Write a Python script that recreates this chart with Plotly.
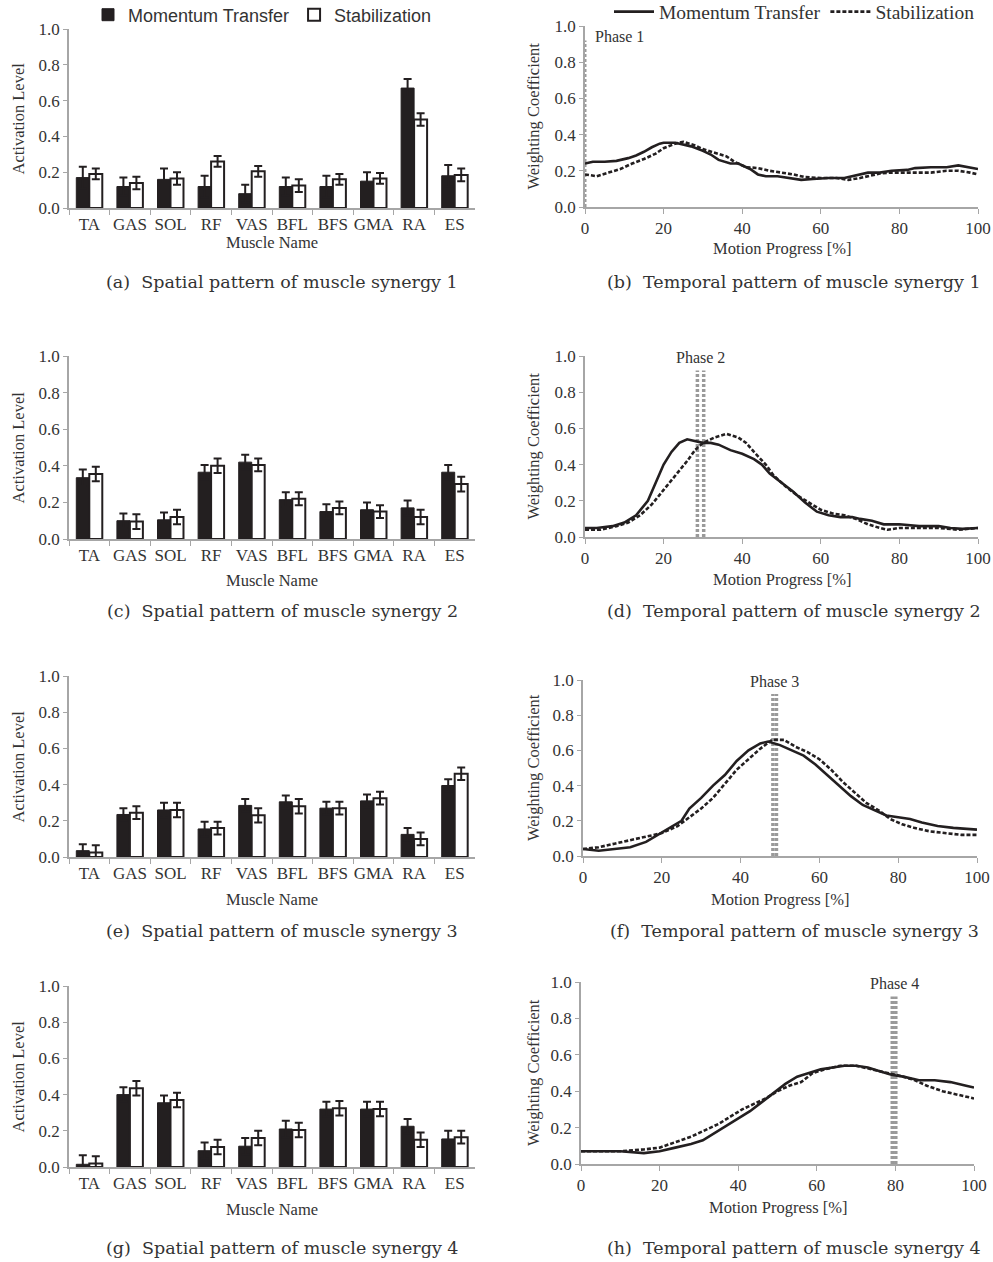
import plotly.graph_objects as go

W, H = 993, 1262

muscles = ["TA", "GAS", "SOL", "RF", "VAS", "BFL", "BFS", "GMA", "RA", "ES"]

# Spatial patterns (activation levels) and error bars
s1_mt = [0.17, 0.12, 0.16, 0.12, 0.08, 0.12, 0.12, 0.15, 0.67, 0.18]
s1_mt_err = [0.06, 0.05, 0.06, 0.06, 0.05, 0.05, 0.06, 0.05, 0.05, 0.06]
s1_st = [0.19, 0.14, 0.165, 0.26, 0.205, 0.125, 0.16, 0.165, 0.495, 0.185]
s1_st_err = [0.03, 0.035, 0.035, 0.03, 0.03, 0.035, 0.03, 0.03, 0.035, 0.035]

s2_mt = [0.335, 0.10, 0.105, 0.365, 0.42, 0.215, 0.15, 0.16, 0.17, 0.365]
s2_mt_err = [0.045, 0.04, 0.04, 0.04, 0.04, 0.04, 0.04, 0.04, 0.04, 0.04]
s2_st = [0.355, 0.095, 0.12, 0.40, 0.405, 0.22, 0.17, 0.15, 0.12, 0.30]
s2_st_err = [0.04, 0.04, 0.04, 0.04, 0.035, 0.035, 0.035, 0.035, 0.04, 0.04]

s3_mt = [0.035, 0.235, 0.26, 0.155, 0.285, 0.305, 0.27, 0.31, 0.125, 0.395]
s3_mt_err = [0.035, 0.035, 0.04, 0.04, 0.035, 0.035, 0.035, 0.035, 0.035, 0.035]
s3_st = [0.025, 0.245, 0.26, 0.16, 0.23, 0.28, 0.27, 0.325, 0.10, 0.46]
s3_st_err = [0.04, 0.035, 0.04, 0.035, 0.04, 0.04, 0.035, 0.035, 0.035, 0.035]

s4_mt = [0.015, 0.40, 0.355, 0.09, 0.115, 0.21, 0.32, 0.32, 0.225, 0.155]
s4_mt_err = [0.05, 0.04, 0.04, 0.045, 0.045, 0.045, 0.04, 0.04, 0.04, 0.045]
s4_st = [0.02, 0.435, 0.37, 0.11, 0.16, 0.205, 0.325, 0.32, 0.15, 0.165]
s4_st_err = [0.04, 0.04, 0.04, 0.04, 0.04, 0.04, 0.04, 0.04, 0.04, 0.035]

# Temporal patterns (weighting coefficients)
t1_mt_x = [0, 2, 5, 8, 11, 13, 15, 17, 19, 20, 23, 25, 27, 30, 32, 34, 37, 39, 42, 44, 46, 49, 52, 55, 58, 62, 66, 69, 72, 75, 78, 82, 84, 88, 92, 95, 98, 100]
t1_mt_y = [0.24, 0.25, 0.25, 0.255, 0.27, 0.285, 0.305, 0.33, 0.35, 0.355, 0.355, 0.345, 0.335, 0.31, 0.29, 0.26, 0.24, 0.24, 0.21, 0.18, 0.17, 0.17, 0.16, 0.15, 0.155, 0.16, 0.16, 0.175, 0.19, 0.19, 0.2, 0.205, 0.215, 0.22, 0.22, 0.23, 0.22, 0.21]
t1_st_x = [0, 3, 6, 9, 12, 15, 18, 20, 23, 25, 28, 30, 33, 36, 38, 41, 44, 47, 50, 53, 56, 60, 64, 67, 70, 72, 75, 78, 82, 88, 92, 95, 98, 100]
t1_st_y = [0.18, 0.17, 0.19, 0.21, 0.24, 0.265, 0.295, 0.325, 0.35, 0.36, 0.34, 0.32, 0.3, 0.28, 0.25, 0.22, 0.215, 0.2, 0.19, 0.18, 0.165, 0.16, 0.16, 0.15, 0.16, 0.17, 0.185, 0.19, 0.19, 0.19, 0.2, 0.2, 0.19, 0.18]

t2_mt_x = [0, 3, 5, 7, 10, 13, 16, 18, 20, 22, 24, 26, 28, 30, 32, 34, 37, 40, 43, 45, 47, 50, 53, 56, 59, 62, 65, 68, 70, 73, 76, 80, 85, 90, 93, 96, 100]
t2_mt_y = [0.05, 0.05, 0.055, 0.06, 0.08, 0.12, 0.2, 0.3, 0.4, 0.47, 0.52, 0.54, 0.53, 0.52, 0.52, 0.51, 0.48, 0.46, 0.43, 0.4, 0.35, 0.3, 0.25, 0.19, 0.14, 0.12, 0.11, 0.11, 0.1, 0.09, 0.07, 0.07, 0.06, 0.06, 0.05, 0.045, 0.05]
t2_st_x = [0, 4, 8, 11, 14, 17, 20, 23, 26, 28, 30, 33, 36, 39, 41, 43, 46, 48, 51, 54, 57, 60, 63, 66, 69, 72, 75, 77, 80, 85, 90, 95, 100]
t2_st_y = [0.04, 0.04, 0.06, 0.08, 0.12, 0.18, 0.26, 0.34, 0.42, 0.48, 0.52, 0.55, 0.57, 0.55, 0.52, 0.47, 0.4, 0.34, 0.28, 0.23, 0.19, 0.15, 0.13, 0.12, 0.1, 0.07, 0.05, 0.04, 0.05, 0.05, 0.05, 0.04, 0.05]

t3_mt_x = [0, 4, 8, 12, 16, 19, 22, 25, 27, 30, 33, 36, 39, 42, 45, 47, 50, 53, 56, 59, 62, 65, 68, 71, 74, 77, 80, 83, 86, 90, 94, 100]
t3_mt_y = [0.04, 0.03, 0.04, 0.05, 0.08, 0.12, 0.16, 0.2, 0.27, 0.33, 0.4, 0.46, 0.54, 0.6, 0.64, 0.65, 0.63, 0.6, 0.57, 0.52, 0.46, 0.4, 0.34, 0.29, 0.26, 0.23, 0.22, 0.21, 0.19, 0.17, 0.16, 0.15]
t3_st_x = [0, 4, 8, 12, 16, 20, 24, 27, 30, 33, 36, 39, 42, 45, 48, 51, 54, 57, 60, 63, 66, 69, 72, 75, 78, 81, 84, 88, 92, 96, 100]
t3_st_y = [0.04, 0.05, 0.07, 0.09, 0.11, 0.13, 0.17, 0.22, 0.27, 0.33, 0.41, 0.49, 0.55, 0.61, 0.66, 0.66, 0.62, 0.59, 0.55, 0.49, 0.42, 0.36, 0.3, 0.26, 0.21, 0.18, 0.16, 0.14, 0.13, 0.12, 0.12]

t4_mt_x = [0, 5, 10, 16, 20, 24, 28, 31, 34, 37, 40, 43, 46, 49, 52, 55, 58, 61, 64, 67, 70, 73, 76, 79, 82, 86, 90, 94, 98, 100]
t4_mt_y = [0.07, 0.07, 0.07, 0.06, 0.07, 0.09, 0.11, 0.13, 0.17, 0.21, 0.25, 0.29, 0.34, 0.39, 0.44, 0.48, 0.5, 0.52, 0.53, 0.54, 0.54, 0.53, 0.51, 0.49, 0.48, 0.46, 0.46, 0.45, 0.43, 0.42]
t4_st_x = [0, 10, 16, 20, 24, 28, 31, 35, 38, 41, 44, 47, 50, 53, 56, 59, 62, 66, 70, 74, 78, 82, 85, 88, 92, 96, 100]
t4_st_y = [0.07, 0.07, 0.08, 0.09, 0.12, 0.15, 0.18, 0.22, 0.26, 0.3, 0.33, 0.36, 0.4, 0.43, 0.45, 0.5, 0.52, 0.54, 0.54, 0.52, 0.5, 0.48, 0.46, 0.43, 0.4, 0.38, 0.36]

phase_x = [[0.0], [28.6, 30.2], [48.2, 49.1], [79.2, 80.1]]
phase_top = 0.92
phase_labels = ["Phase 1", "Phase 2", "Phase 3", "Phase 4"]

captions_left = ["(a)  Spatial pattern of muscle synergy 1", "(c)  Spatial pattern of muscle synergy 2",
                 "(e)  Spatial pattern of muscle synergy 3", "(g)  Spatial pattern of muscle synergy 4"]
captions_right = ["(b)  Temporal pattern of muscle synergy 1", "(d)  Temporal pattern of muscle synergy 2",
                  "(f)  Temporal pattern of muscle synergy 3", "(h)  Temporal pattern of muscle synergy 4"]

spatial = [(s1_mt, s1_mt_err, s1_st, s1_st_err), (s2_mt, s2_mt_err, s2_st, s2_st_err),
           (s3_mt, s3_mt_err, s3_st, s3_st_err), (s4_mt, s4_mt_err, s4_st, s4_st_err)]
temporal = [(t1_mt_x, t1_mt_y, t1_st_x, t1_st_y), (t2_mt_x, t2_mt_y, t2_st_x, t2_st_y),
            (t3_mt_x, t3_mt_y, t3_st_x, t3_st_y), (t4_mt_x, t4_mt_y, t4_st_x, t4_st_y)]

# Layout geometry in pixels
bar_x = (69, 475)
line_x = [(585, 978), (585, 978), (583, 977), (581, 974)]
bar_y = [(29, 208), (356, 539), (676, 857), (986, 1167)]
line_y = [(26, 207), (356, 537), (680, 856), (982, 1164)]
bar_xt_y = [243, 580, 899, 1209]
line_xt_y = [249, 579, 899, 1207]
caption_y = [282, 611, 931, 1248]

def px(x):
    return x / W

def py(y):
    return 1 - y / H

SERIF = "Liberation Serif"
TXT = "#333333"
AX = "#a6a6a6"
TICK = 17
TITLE = 16.5

fig = go.Figure()
layout = dict(width=W, height=H, margin=dict(l=0, r=0, t=0, b=0, autoexpand=False),
              paper_bgcolor="white", plot_bgcolor="white",
              barmode="group", bargap=0.36, bargroupgap=0.0,
              font=dict(family=SERIF, color=TXT, size=15), showlegend=True)
annotations = []

def ann(text, x, y, xref="paper", yref="paper", size=TITLE, family=SERIF, angle=0, xanchor="center"):
    annotations.append(dict(text=text, x=x, y=y, xref=xref, yref=yref, showarrow=False,
                            textangle=angle, xanchor=xanchor, yanchor="middle",
                            font=dict(family=family, size=size, color=TXT)))

for r in range(4):
    bi = 2 * r + 1
    li = 2 * r + 2
    bxa = "x" if bi == 1 else f"x{bi}"
    bya = "y" if bi == 1 else f"y{bi}"
    lxa = f"x{li}"
    lya = f"y{li}"
    mt, mte, st, ste = spatial[r]
    fig.add_trace(go.Bar(x=muscles, y=mt, name="Momentum Transfer", xaxis=bxa, yaxis=bya,
                         marker=dict(color="#231f20", line=dict(color="#231f20", width=1)),
                         error_y=dict(type="data", array=mte, color="#231f20", thickness=2, width=4),
                         showlegend=(r == 0), legend="legend", legendgroup="mtb"))
    fig.add_trace(go.Bar(x=muscles, y=st, name="Stabilization", xaxis=bxa, yaxis=bya,
                         marker=dict(color="white", line=dict(color="#231f20", width=2)),
                         error_y=dict(type="data", array=ste, color="#231f20", thickness=2, width=4),
                         showlegend=(r == 0), legend="legend", legendgroup="stb"))
    mx, my, sx, sy = temporal[r]
    for k, p in enumerate(phase_x[r]):
        fig.add_trace(go.Scatter(x=[p, p], y=[0, phase_top], mode="lines", xaxis=lxa, yaxis=lya,
                                 line=dict(color="#9a9a9a", width=3.5 if r > 0 else 3, dash="3px,2px"),
                                 showlegend=False, hoverinfo="skip"))
    fig.add_trace(go.Scatter(x=mx, y=my, mode="lines", name="Momentum Transfer", xaxis=lxa, yaxis=lya,
                             line=dict(color="#231f20", width=2.6),
                             showlegend=(r == 0), legend="legend2"))
    fig.add_trace(go.Scatter(x=sx, y=sy, mode="lines", name="Stabilization", xaxis=lxa, yaxis=lya,
                             line=dict(color="#231f20", width=2.6, dash="4px,2px"),
                             showlegend=(r == 0), legend="legend2"))

    common_y = dict(range=[0, 1.0], tickvals=[0, 0.2, 0.4, 0.6, 0.8, 1.0], tickformat=".1f",
                    showgrid=False, zeroline=False, showline=True, linecolor=AX, linewidth=1.5,
                    ticks="outside", ticklen=4, tickcolor=AX, tickwidth=1.2, automargin=False,
                    tickfont=dict(family=SERIF, size=TICK, color=TXT))
    layout["xaxis" if bi == 1 else f"xaxis{bi}"] = dict(
        domain=[px(bar_x[0]), px(bar_x[1])], anchor=bya, showgrid=False, showline=True,
        linecolor=AX, linewidth=1.5, ticks="outside", ticklen=5, tickcolor=AX, tickwidth=1.2,
        tickson="boundaries", tickangle=0, automargin=False,
        tickfont=dict(family=SERIF, size=TICK, color=TXT))
    layout["yaxis" if bi == 1 else f"yaxis{bi}"] = dict(
        domain=[py(bar_y[r][1]), py(bar_y[r][0])], anchor=bxa, **common_y)
    layout[f"xaxis{li}"] = dict(
        domain=[px(line_x[r][0]), px(line_x[r][1])], anchor=lya, range=[0, 100],
        tickvals=[0, 20, 40, 60, 80, 100], showgrid=False, zeroline=False, showline=True,
        linecolor=AX, linewidth=1.5, ticks="outside", ticklen=5, tickcolor=AX, tickwidth=1.2,
        tickangle=0, automargin=False, tickfont=dict(family=SERIF, size=TICK, color=TXT))
    layout[f"yaxis{li}"] = dict(
        domain=[py(line_y[r][1]), py(line_y[r][0])], anchor=lxa, **common_y)

    ann("Activation Level", px(18), py((bar_y[r][0] + bar_y[r][1]) / 2), angle=-90)
    ann("Muscle Name", px((bar_x[0] + bar_x[1]) / 2), py(bar_xt_y[r]))
    ann("Weighting Coefficient", px(533), py((line_y[r][0] + line_y[r][1]) / 2), angle=-90)
    ann("Motion Progress [%]", px((line_x[r][0] + line_x[r][1]) / 2), py(line_xt_y[r]))
    if r == 0:
        ann(phase_labels[r], 2, 0.94, xref=lxa, yref=lya, size=16, xanchor="left")
    else:
        ann(phase_labels[r], sum(phase_x[r]) / len(phase_x[r]), 0.99, xref=lxa, yref=lya, size=16)
    ann(captions_left[r], px(282), py(caption_y[r]), size=17.5, family="DejaVu Serif")
    ann(captions_right[r], px(794), py(caption_y[r]), size=17.5, family="DejaVu Serif")

layout["annotations"] = annotations
layout["legend"] = dict(orientation="h", x=px(88), y=py(15), xanchor="left", yanchor="middle",
                        font=dict(family="Liberation Sans", size=18, color=TXT), bgcolor="rgba(0,0,0,0)",
                        itemwidth=30, tracegroupgap=0)
layout["legend2"] = dict(orientation="h", x=px(609), y=py(12), xanchor="left", yanchor="middle",
                         font=dict(family=SERIF, size=19.5, color=TXT), bgcolor="rgba(0,0,0,0)",
                         itemwidth=40, tracegroupgap=0)
fig.update_layout(**layout)
fig.write_html("out.html")
